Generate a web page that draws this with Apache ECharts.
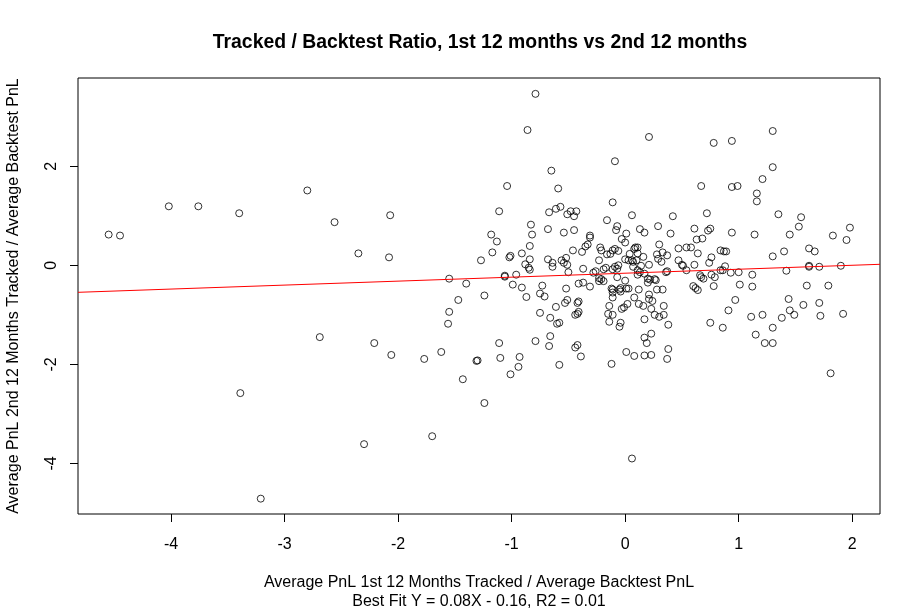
<!DOCTYPE html>
<html>
<head>
<meta charset="utf-8">
<title>Tracked / Backtest Ratio</title>
<script src="https://cdn.jsdelivr.net/npm/echarts@6/dist/echarts.min.js"></script>
<style>
  html, body { margin: 0; padding: 0; background: #fff; }
  #chart { width: 921px; height: 612px; }
</style>
</head>
<body>
<div id="chart"></div>
<script>
// 1st 12 months ratio (x) and 2nd 12 months ratio (y)
var firstYear = [
  -4.55, -4.45, -4.02, -3.76, -3.40, -2.80, -2.56, -2.07, -2.35, -2.08,
  -1.55, -1.40, -1.47, -1.55, -1.56, -2.69, -2.21, -2.06, -1.77, -1.62,
  -1.43, -3.39, -2.30, -1.70, -3.21,
  -0.79, -0.86, -0.65, -1.04, -0.59, -1.11, -0.67, -0.61, -0.57, -0.51,
  -0.83, -0.68, -0.82, -0.54, -1.18, -1.13, -0.84, -1.17, -1.01, -1.02,
  -0.91, -1.27, -0.84, -0.68, -0.88, -0.85, -0.64, -0.64, -0.56, -0.54,
  -0.51, -0.52,
  -0.84, -0.50, -1.24, -1.06, -1.06, -0.96, -0.99, -0.91, -0.87, -0.73,
  -0.75, -0.71, -0.52, -0.61, -0.53, -0.51, -0.75, -0.66, -0.60, -0.58,
  -1.11, -0.79, -0.66, -0.67, -1.31, -1.30, -1.10, -0.93, -0.94, -1.01,
  -0.58, -1.24,
  0.21, -0.09, -0.11, -0.48, -0.43, -0.45, -0.16, 0.06, -0.45, -0.07,
  -0.08, 0.13, 0.17, 0.29, 0.01, -0.31, -0.31, -0.03, 0.00, -0.33,
  -0.35, -0.46, -0.38, -0.22, -0.21, -0.11, -0.09, -0.06, -0.13, -0.16,
  0.09, 0.11, 0.08, 0.30, 0.04, 0.11, 0.16, 0.28, 0.33, 0.37,
  0.29, 0.32, 0.00, 0.03, 0.06, 0.07, 0.10, -0.23, 0.21, 0.14,
  -0.37, -0.28, -0.26, -0.19, -0.17, -0.11, -0.09, -0.07, -0.06, -0.23,
  -0.21, -0.19, -0.23, -0.07, 0.00, 0.07, 0.11, 0.13, 0.11, 0.17,
  0.20, 0.22, 0.26, 0.27, 0.20, 0.36, 0.37, -0.41, -0.37, -0.31,
  -0.12, -0.11, -0.05, -0.04, 0.01, 0.03, -0.11, -0.04, -0.11, 0.12,
  0.28, 0.33, 0.21, 0.21, 0.24, 0.08, -0.41, -0.42, 0.02, -0.01,
  -0.03, 0.12, 0.16, 0.23, 0.34, -0.14, -0.41, -0.42, -0.44, -0.15,
  -0.11, 0.26, 0.30, 0.34, 0.17, -0.14, -0.04, -0.05, 0.38, 0.17,
  0.19, 0.23, -0.42, -0.44, -0.39, 0.01, 0.08, 0.17, 0.23, -0.12,
  0.38, 0.37, 0.06,
  0.78, 0.94, 1.21, 0.67, 0.94, 0.99, 1.16, 1.16, 0.42, 0.72,
  0.40, 0.61, 0.73, 0.75, 0.94, 1.14, 0.63, 0.68, 0.47, 0.54,
  0.58, 0.64, 0.84, 0.87, 0.89, 0.47, 0.50, 0.51, 0.61, 0.76,
  0.74, 0.88,
  0.54, 0.66, 0.67, 0.69, 0.76, 0.79, 0.84, 0.86, 0.93, 1.00,
  1.12, 0.60, 0.62, 0.64, 0.78, 1.01, 1.12, 0.97, 0.91, 0.75,
  0.86, 1.11, 1.21, 1.15, 1.23,
  1.30, 1.30, 1.35, 1.55, 1.53, 1.45, 1.98, 1.83, 1.95, 1.40,
  1.30, 1.62, 1.67, 1.62, 1.62, 1.71, 1.90,
  1.42, 1.60, 1.79, 1.44, 1.57, 1.71, 1.45, 1.49, 1.38, 1.72,
  1.92, 1.30, 1.30, 1.81
];
var secondYear = [
  0.62, 0.60, 1.19, 1.19, 1.05, 1.51, 0.87, 1.01, 0.24, 0.16,
  -0.27, -0.37, -0.70, -0.94, -1.18, -1.45, -1.57, -1.81, -1.89, -1.75,
  -2.30, -2.58, -3.61, -3.45, -4.71,
  3.46, 2.73, 1.91, 1.60, 1.55, 1.09, 1.07, 1.14, 1.18, 1.03,
  0.82, 0.73, 0.62, 0.66, 0.62, 0.48, 0.39, 0.26, 0.19, 0.16,
  0.24, 0.10, 0.12, 0.12, 0.02, -0.05, 0.05, -0.03, 0.10, 0.05,
  0.01, 0.15,
  -0.09, -0.14, -0.61, -0.21, -0.23, -0.19, -0.39, -0.45, -0.64, -0.41,
  -0.57, -0.63, -0.47, -0.84, -0.76, -0.70, -0.96, -1.06, -1.18, -1.16,
  -1.57, -1.53, -1.43, -1.63, -1.93, -1.92, -1.87, -1.85, -2.05, -2.20,
  -2.01, -2.78,
  2.59, 2.10, 1.27, 1.09, 1.09, 0.99, 0.91, 1.01, 0.71, 0.79,
  0.71, 0.73, 0.66, 0.79, 0.64, 0.60, 0.56, 0.53, 0.46, 0.42,
  0.38, 0.30, 0.27, 0.36, 0.30, 0.30, 0.33, 0.29, 0.23, 0.22,
  0.36, 0.36, 0.33, 0.42, 0.23, 0.24, 0.17, 0.22, 0.26, 0.20,
  0.13, 0.07, 0.12, 0.10, 0.10, 0.07, 0.10, 0.10, 0.01, -0.01,
  -0.07, -0.15, -0.12, -0.08, -0.05, -0.08, -0.03, -0.07, 0.00, -0.26,
  -0.28, -0.32, -0.32, -0.24, -0.31, -0.03, -0.10, -0.14, -0.19, -0.17,
  -0.27, -0.29, -0.28, -0.30, -0.35, -0.14, -0.12, -0.37, -0.35, -0.43,
  -0.47, -0.49, -0.49, -0.46, -0.47, -0.47, -0.55, -0.53, -0.65, -0.49,
  -0.49, -0.49, -0.59, -0.68, -0.72, -0.65, -0.73, -0.76, -0.78, -0.85,
  -0.88, -0.78, -0.82, -0.88, -0.82, -0.82, -0.94, -0.98, -1.00, -0.98,
  -1.00, -1.00, -1.04, -1.00, -1.09, -1.14, -1.16, -1.24, -1.20, -1.46,
  -1.57, -1.38, -1.61, -1.66, -1.84, -1.75, -1.83, -1.82, -1.81, -1.99,
  -1.69, -1.89, -3.90,
  2.47, 2.51, 1.74, 1.60, 1.58, 1.60, 1.45, 1.29, 0.99, 1.05,
  0.64, 0.74, 0.70, 0.74, 0.66, 0.62, 0.52, 0.54, 0.34, 0.36,
  0.36, 0.24, 0.30, 0.28, 0.28, 0.10, 0.01, -0.01, 0.01, 0.16,
  0.05, -0.02,
  -0.10, -0.20, -0.24, -0.27, -0.19, -0.24, -0.10, -0.10, -0.15, -0.14,
  -0.19, -0.42, -0.46, -0.50, -0.42, -0.39, -0.43, -0.70, -0.91, -1.16,
  -1.26, -1.04, -1.00, -1.40, -1.57,
  2.71, 1.98, 1.03, 0.97, 0.78, 0.62, 0.76, 0.60, 0.51, 0.28,
  0.18, 0.34, 0.28, -0.01, -0.03, -0.03, -0.01,
  -0.11, -0.41, -0.41, -0.68, -0.80, -0.76, -0.91, -1.00, -1.06, -1.02,
  -0.98, -1.26, -1.57, -2.18
];
var xTicks = [-4, -3, -2, -1, 0, 1, 2];
var yTicks = [-4, -2, 0, 2];
var fitSlope = 0.08;
var fitIntercept = -0.16;

var xMin = -4.82, xMax = 2.245;
var yMin = -5.02, yMax = 3.78;

var points = [];
for (var i = 0; i < firstYear.length; i++) {
  points.push([firstYear[i], secondYear[i]]);
}
// best fit line across the whole plot
var fitLine = [
  [xMin, fitIntercept + fitSlope * xMin],
  [xMax, fitIntercept + fitSlope * xMax]
];

var font = 'Liberation Sans, Arial, sans-serif';
var chart = echarts.init(document.getElementById('chart'));
var opt = {
  backgroundColor: '#fff',
  animation: false,
  title: {
    text: 'Tracked / Backtest Ratio, 1st 12 months vs 2nd 12 months',
    left: 475,
    top: 28,
    textAlign: 'center',
    textStyle: { fontFamily: font, fontSize: 19.4, fontWeight: 'bold', color: '#000' }
  },
  grid: {
    left: 78,
    right: 41,
    top: 78,
    bottom: 98,
    outerBoundsMode: 'none',
    containLabel: false,
    show: true,
    borderColor: '#000',
    borderWidth: 1,
    backgroundColor: 'transparent'
  },
  xAxis: {
    type: 'value',
    min: xMin,
    max: xMax,
    splitLine: { show: false },
    axisLine: { show: false, onZero: false },
    axisTick: {
      show: true,
      customValues: xTicks,
      length: 8,
      lineStyle: { color: '#000', width: 1 }
    },
    axisLabel: {
      customValues: xTicks,
      margin: 23,
      fontFamily: font,
      fontSize: 16,
      color: '#000'
    },
    name: 'Average PnL 1st 12 Months Tracked / Average Backtest PnL\nBest Fit Y = 0.08X - 0.16, R2 = 0.01',
    nameLocation: 'middle',
    nameGap: 59,
    nameTextStyle: { fontFamily: font, fontSize: 16, color: '#000', lineHeight: 19 }
  },
  yAxis: {
    type: 'value',
    min: yMin,
    max: yMax,
    splitLine: { show: false },
    axisLine: { show: false, onZero: false },
    axisTick: {
      show: true,
      customValues: yTicks,
      length: 8,
      lineStyle: { color: '#000', width: 1 }
    },
    axisLabel: {
      customValues: yTicks,
      rotate: 90,
      margin: 18,
      fontFamily: font,
      fontSize: 16,
      color: '#000'
    },
    name: 'Average PnL 2nd 12 Months Tracked / Average Backtest PnL',
    nameLocation: 'middle',
    nameRotate: 90,
    nameGap: 56,
    nameTextStyle: { fontFamily: font, fontSize: 16, color: '#000' }
  },
  series: [
    {
      type: 'scatter',
      data: points,
      symbol: 'circle',
      symbolSize: 7,
      itemStyle: { color: 'rgba(0,0,0,0)', borderColor: '#000', borderWidth: 1 },
      silent: true,
      z: 2
    },
    {
      type: 'line',
      data: fitLine,
      showSymbol: false,
      symbol: 'none',
      lineStyle: { color: '#ff0000', width: 1 },
      silent: true,
      z: 3
    }
  ]
};
chart.setOption(opt);
</script>
</body>
</html>
